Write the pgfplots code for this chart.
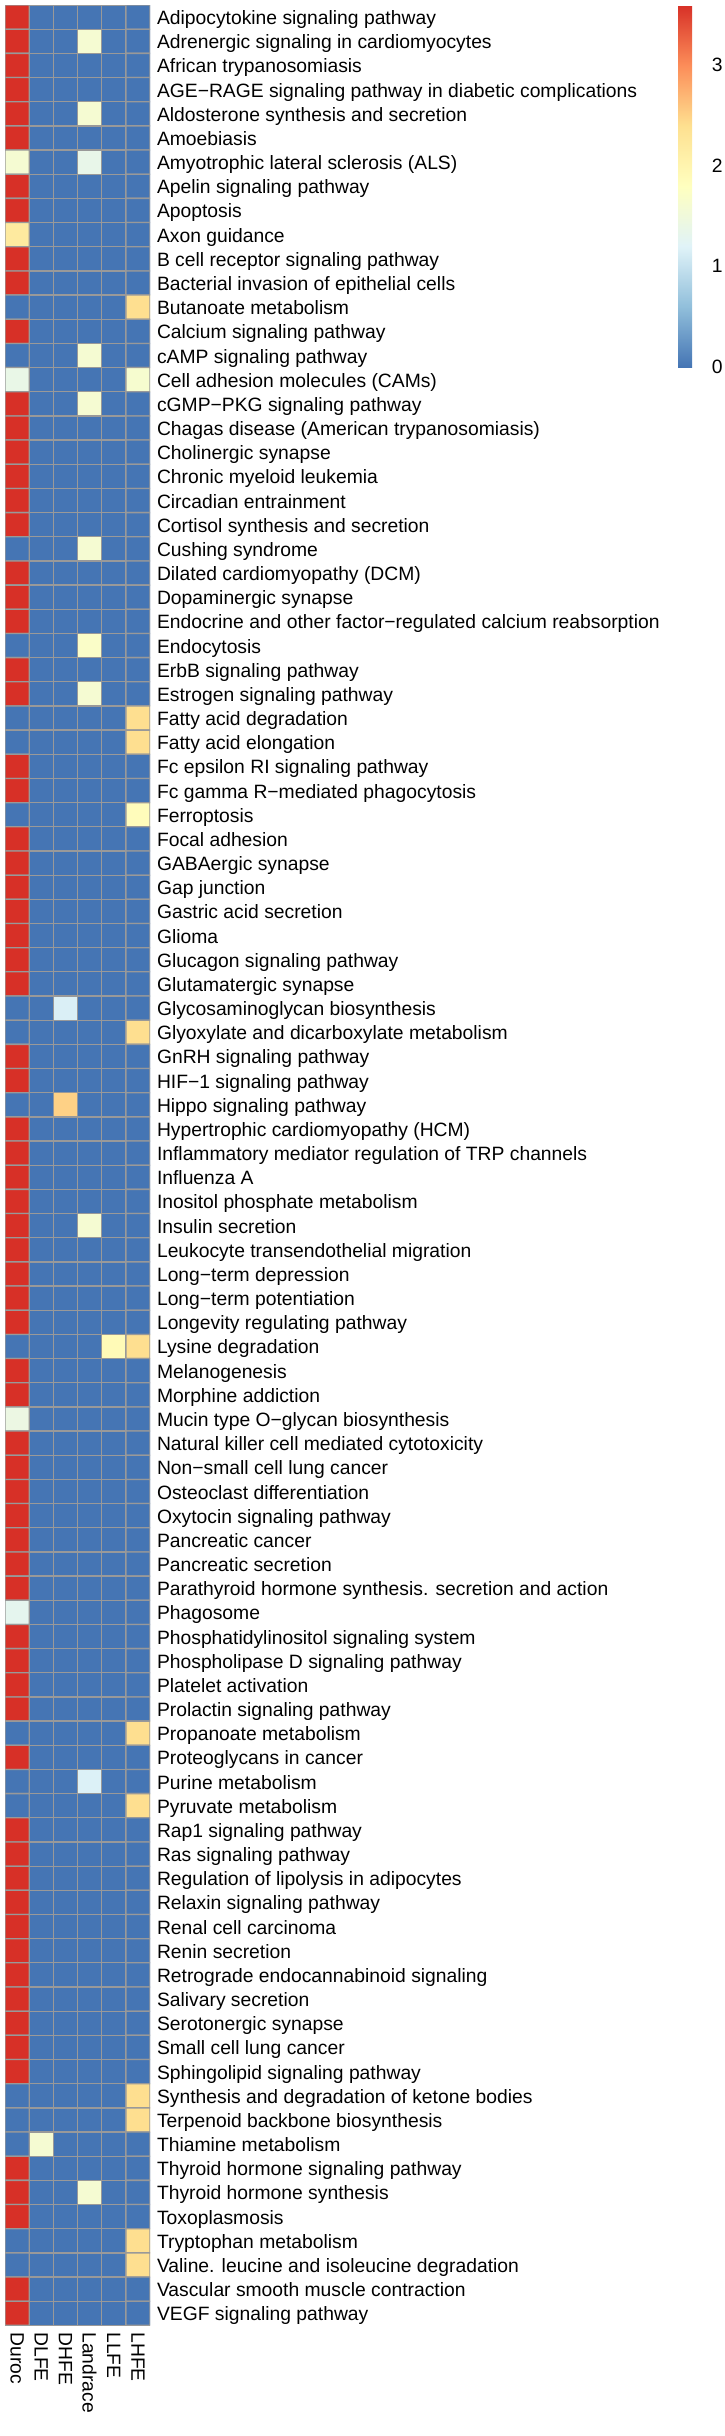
\documentclass[border=0pt]{standalone}
\usepackage{pgfplots}
\pgfplotsset{compat=1.18}
\usepackage{pgfplotstable}
\usepackage{fontspec}
\setmainfont{Liberation Sans}
\definecolor{gridgray}{RGB}{153,153,153}
\newcommand{\lblfont}{\fontsize{19.3}{23}\selectfont}
% columns: 0 Duroc, 1 DLFE, 2 DHFE, 3 Landrace, 4 LLFE, 5 LHFE ; y = row index from top
\pgfplotstableread[row sep=\\]{
x y v\\
0 0 3.59\\1 0 0\\2 0 0\\3 0 0\\4 0 0\\5 0 0\\
0 1 3.59\\1 1 0\\2 1 0\\3 1 1.6\\4 1 0\\5 1 0\\
0 2 3.59\\1 2 0\\2 2 0\\3 2 0\\4 2 0\\5 2 0\\
0 3 3.59\\1 3 0\\2 3 0\\3 3 0\\4 3 0\\5 3 0\\
0 4 3.59\\1 4 0\\2 4 0\\3 4 1.6\\4 4 0\\5 4 0\\
0 5 3.59\\1 5 0\\2 5 0\\3 5 0\\4 5 0\\5 5 0\\
0 6 1.6\\1 6 0\\2 6 0\\3 6 1.35\\4 6 0\\5 6 0\\
0 7 3.59\\1 7 0\\2 7 0\\3 7 0\\4 7 0\\5 7 0\\
0 8 3.59\\1 8 0\\2 8 0\\3 8 0\\4 8 0\\5 8 0\\
0 9 2.2\\1 9 0\\2 9 0\\3 9 0\\4 9 0\\5 9 0\\
0 10 3.59\\1 10 0\\2 10 0\\3 10 0\\4 10 0\\5 10 0\\
0 11 3.59\\1 11 0\\2 11 0\\3 11 0\\4 11 0\\5 11 0\\
0 12 0\\1 12 0\\2 12 0\\3 12 0\\4 12 0\\5 12 2.4\\
0 13 3.59\\1 13 0\\2 13 0\\3 13 0\\4 13 0\\5 13 0\\
0 14 0\\1 14 0\\2 14 0\\3 14 1.6\\4 14 0\\5 14 0\\
0 15 1.38\\1 15 0\\2 15 0\\3 15 0\\4 15 0\\5 15 1.63\\
0 16 3.59\\1 16 0\\2 16 0\\3 16 1.6\\4 16 0\\5 16 0\\
0 17 3.59\\1 17 0\\2 17 0\\3 17 0\\4 17 0\\5 17 0\\
0 18 3.59\\1 18 0\\2 18 0\\3 18 0\\4 18 0\\5 18 0\\
0 19 3.59\\1 19 0\\2 19 0\\3 19 0\\4 19 0\\5 19 0\\
0 20 3.59\\1 20 0\\2 20 0\\3 20 0\\4 20 0\\5 20 0\\
0 21 3.59\\1 21 0\\2 21 0\\3 21 0\\4 21 0\\5 21 0\\
0 22 0\\1 22 0\\2 22 0\\3 22 1.6\\4 22 0\\5 22 0\\
0 23 3.59\\1 23 0\\2 23 0\\3 23 0\\4 23 0\\5 23 0\\
0 24 3.59\\1 24 0\\2 24 0\\3 24 0\\4 24 0\\5 24 0\\
0 25 3.59\\1 25 0\\2 25 0\\3 25 0\\4 25 0\\5 25 0\\
0 26 0\\1 26 0\\2 26 0\\3 26 1.7\\4 26 0\\5 26 0\\
0 27 3.59\\1 27 0\\2 27 0\\3 27 0\\4 27 0\\5 27 0\\
0 28 3.59\\1 28 0\\2 28 0\\3 28 1.6\\4 28 0\\5 28 0\\
0 29 0\\1 29 0\\2 29 0\\3 29 0\\4 29 0\\5 29 2.4\\
0 30 0\\1 30 0\\2 30 0\\3 30 0\\4 30 0\\5 30 2.4\\
0 31 3.59\\1 31 0\\2 31 0\\3 31 0\\4 31 0\\5 31 0\\
0 32 3.59\\1 32 0\\2 32 0\\3 32 0\\4 32 0\\5 32 0\\
0 33 0\\1 33 0\\2 33 0\\3 33 0\\4 33 0\\5 33 1.85\\
0 34 3.59\\1 34 0\\2 34 0\\3 34 0\\4 34 0\\5 34 0\\
0 35 3.59\\1 35 0\\2 35 0\\3 35 0\\4 35 0\\5 35 0\\
0 36 3.59\\1 36 0\\2 36 0\\3 36 0\\4 36 0\\5 36 0\\
0 37 3.59\\1 37 0\\2 37 0\\3 37 0\\4 37 0\\5 37 0\\
0 38 3.59\\1 38 0\\2 38 0\\3 38 0\\4 38 0\\5 38 0\\
0 39 3.59\\1 39 0\\2 39 0\\3 39 0\\4 39 0\\5 39 0\\
0 40 3.59\\1 40 0\\2 40 0\\3 40 0\\4 40 0\\5 40 0\\
0 41 0\\1 41 0\\2 41 1.15\\3 41 0\\4 41 0\\5 41 0\\
0 42 0\\1 42 0\\2 42 0\\3 42 0\\4 42 0\\5 42 2.4\\
0 43 3.59\\1 43 0\\2 43 0\\3 43 0\\4 43 0\\5 43 0\\
0 44 3.59\\1 44 0\\2 44 0\\3 44 0\\4 44 0\\5 44 0\\
0 45 0\\1 45 0\\2 45 2.5\\3 45 0\\4 45 0\\5 45 0\\
0 46 3.59\\1 46 0\\2 46 0\\3 46 0\\4 46 0\\5 46 0\\
0 47 3.59\\1 47 0\\2 47 0\\3 47 0\\4 47 0\\5 47 0\\
0 48 3.59\\1 48 0\\2 48 0\\3 48 0\\4 48 0\\5 48 0\\
0 49 3.59\\1 49 0\\2 49 0\\3 49 0\\4 49 0\\5 49 0\\
0 50 3.59\\1 50 0\\2 50 0\\3 50 1.6\\4 50 0\\5 50 0\\
0 51 3.59\\1 51 0\\2 51 0\\3 51 0\\4 51 0\\5 51 0\\
0 52 3.59\\1 52 0\\2 52 0\\3 52 0\\4 52 0\\5 52 0\\
0 53 3.59\\1 53 0\\2 53 0\\3 53 0\\4 53 0\\5 53 0\\
0 54 3.59\\1 54 0\\2 54 0\\3 54 0\\4 54 0\\5 54 0\\
0 55 0\\1 55 0\\2 55 0\\3 55 0\\4 55 1.9\\5 55 2.4\\
0 56 3.59\\1 56 0\\2 56 0\\3 56 0\\4 56 0\\5 56 0\\
0 57 3.59\\1 57 0\\2 57 0\\3 57 0\\4 57 0\\5 57 0\\
0 58 1.42\\1 58 0\\2 58 0\\3 58 0\\4 58 0\\5 58 0\\
0 59 3.59\\1 59 0\\2 59 0\\3 59 0\\4 59 0\\5 59 0\\
0 60 3.59\\1 60 0\\2 60 0\\3 60 0\\4 60 0\\5 60 0\\
0 61 3.59\\1 61 0\\2 61 0\\3 61 0\\4 61 0\\5 61 0\\
0 62 3.59\\1 62 0\\2 62 0\\3 62 0\\4 62 0\\5 62 0\\
0 63 3.59\\1 63 0\\2 63 0\\3 63 0\\4 63 0\\5 63 0\\
0 64 3.59\\1 64 0\\2 64 0\\3 64 0\\4 64 0\\5 64 0\\
0 65 3.59\\1 65 0\\2 65 0\\3 65 0\\4 65 0\\5 65 0\\
0 66 1.3\\1 66 0\\2 66 0\\3 66 0\\4 66 0\\5 66 0\\
0 67 3.59\\1 67 0\\2 67 0\\3 67 0\\4 67 0\\5 67 0\\
0 68 3.59\\1 68 0\\2 68 0\\3 68 0\\4 68 0\\5 68 0\\
0 69 3.59\\1 69 0\\2 69 0\\3 69 0\\4 69 0\\5 69 0\\
0 70 3.59\\1 70 0\\2 70 0\\3 70 0\\4 70 0\\5 70 0\\
0 71 0\\1 71 0\\2 71 0\\3 71 0\\4 71 0\\5 71 2.4\\
0 72 3.59\\1 72 0\\2 72 0\\3 72 0\\4 72 0\\5 72 0\\
0 73 0\\1 73 0\\2 73 0\\3 73 1.17\\4 73 0\\5 73 0\\
0 74 0\\1 74 0\\2 74 0\\3 74 0\\4 74 0\\5 74 2.4\\
0 75 3.59\\1 75 0\\2 75 0\\3 75 0\\4 75 0\\5 75 0\\
0 76 3.59\\1 76 0\\2 76 0\\3 76 0\\4 76 0\\5 76 0\\
0 77 3.59\\1 77 0\\2 77 0\\3 77 0\\4 77 0\\5 77 0\\
0 78 3.59\\1 78 0\\2 78 0\\3 78 0\\4 78 0\\5 78 0\\
0 79 3.59\\1 79 0\\2 79 0\\3 79 0\\4 79 0\\5 79 0\\
0 80 3.59\\1 80 0\\2 80 0\\3 80 0\\4 80 0\\5 80 0\\
0 81 3.59\\1 81 0\\2 81 0\\3 81 0\\4 81 0\\5 81 0\\
0 82 3.59\\1 82 0\\2 82 0\\3 82 0\\4 82 0\\5 82 0\\
0 83 3.59\\1 83 0\\2 83 0\\3 83 0\\4 83 0\\5 83 0\\
0 84 3.59\\1 84 0\\2 84 0\\3 84 0\\4 84 0\\5 84 0\\
0 85 3.59\\1 85 0\\2 85 0\\3 85 0\\4 85 0\\5 85 0\\
0 86 0\\1 86 0\\2 86 0\\3 86 0\\4 86 0\\5 86 2.4\\
0 87 0\\1 87 0\\2 87 0\\3 87 0\\4 87 0\\5 87 2.4\\
0 88 0\\1 88 1.6\\2 88 0\\3 88 0\\4 88 0\\5 88 0\\
0 89 3.59\\1 89 0\\2 89 0\\3 89 0\\4 89 0\\5 89 0\\
0 90 3.59\\1 90 0\\2 90 0\\3 90 1.6\\4 90 0\\5 90 0\\
0 91 3.59\\1 91 0\\2 91 0\\3 91 0\\4 91 0\\5 91 0\\
0 92 0\\1 92 0\\2 92 0\\3 92 0\\4 92 0\\5 92 2.4\\
0 93 0\\1 93 0\\2 93 0\\3 93 0\\4 93 0\\5 93 2.4\\
0 94 3.59\\1 94 0\\2 94 0\\3 94 0\\4 94 0\\5 94 0\\
0 95 3.59\\1 95 0\\2 95 0\\3 95 0\\4 95 0\\5 95 0\\
}\heat
\begin{document}
\begin{tikzpicture}
\useasboundingbox (0,0) rectangle (724pt,-2436pt);
\begin{axis}[
  at={(5pt,-5pt)}, anchor=north west,
  x=24.17pt, y=24.17pt, y dir=reverse,
  xmin=-0.5, xmax=5.5, ymin=-0.5, ymax=95.5,
  axis line style={draw=none},
  major tick length=0pt, minor tick length=0pt,
  tick label style={font=\lblfont, inner sep=0pt, outer sep=0pt},
  xtick={0,...,5},
  xticklabels={Duroc,DLFE,DHFE,Landrace,LLFE,LHFE},
  xticklabel style={rotate=-90, anchor=west},
  xticklabel shift=7pt,
  ytick={0,...,95},
  yticklabel pos=right,
  yticklabel style={anchor=base west, yshift=-7.5pt},
  yticklabel shift=7pt,
  yticklabels={
Adipocytokine signaling pathway,
Adrenergic signaling in cardiomyocytes,
African trypanosomiasis,
AGE−RAGE signaling pathway in diabetic complications,
Aldosterone synthesis and secretion,
Amoebiasis,
Amyotrophic lateral sclerosis (ALS),
Apelin signaling pathway,
Apoptosis,
Axon guidance,
B cell receptor signaling pathway,
Bacterial invasion of epithelial cells,
Butanoate metabolism,
Calcium signaling pathway,
cAMP signaling pathway,
Cell adhesion molecules (CAMs),
cGMP−PKG signaling pathway,
Chagas disease (American trypanosomiasis),
Cholinergic synapse,
Chronic myeloid leukemia,
Circadian entrainment,
Cortisol synthesis and secretion,
Cushing syndrome,
Dilated cardiomyopathy (DCM),
Dopaminergic synapse,
Endocrine and other factor−regulated calcium reabsorption,
Endocytosis,
ErbB signaling pathway,
Estrogen signaling pathway,
Fatty acid degradation,
Fatty acid elongation,
Fc epsilon RI signaling pathway,
Fc gamma R−mediated phagocytosis,
Ferroptosis,
Focal adhesion,
GABAergic synapse,
Gap junction,
Gastric acid secretion,
Glioma,
Glucagon signaling pathway,
Glutamatergic synapse,
Glycosaminoglycan biosynthesis,
Glyoxylate and dicarboxylate metabolism,
GnRH signaling pathway,
HIF−1 signaling pathway,
Hippo signaling pathway,
Hypertrophic cardiomyopathy (HCM),
Inflammatory mediator regulation of TRP channels,
Influenza A,
Inositol phosphate metabolism,
Insulin secretion,
Leukocyte transendothelial migration,
Long−term depression,
Long−term potentiation,
Longevity regulating pathway,
Lysine degradation,
Melanogenesis,
Morphine addiction,
Mucin type O−glycan biosynthesis,
Natural killer cell mediated cytotoxicity,
Non−small cell lung cancer,
Osteoclast differentiation,
Oxytocin signaling pathway,
Pancreatic cancer,
Pancreatic secretion,
Parathyroid hormone synthesis. secretion and action,
Phagosome,
Phosphatidylinositol signaling system,
Phospholipase D signaling pathway,
Platelet activation,
Prolactin signaling pathway,
Propanoate metabolism,
Proteoglycans in cancer,
Purine metabolism,
Pyruvate metabolism,
Rap1 signaling pathway,
Ras signaling pathway,
Regulation of lipolysis in adipocytes,
Relaxin signaling pathway,
Renal cell carcinoma,
Renin secretion,
Retrograde endocannabinoid signaling,
Salivary secretion,
Serotonergic synapse,
Small cell lung cancer,
Sphingolipid signaling pathway,
Synthesis and degradation of ketone bodies,
Terpenoid backbone biosynthesis,
Thiamine metabolism,
Thyroid hormone signaling pathway,
Thyroid hormone synthesis,
Toxoplasmosis,
Tryptophan metabolism,
Valine. leucine and isoleucine degradation,
Vascular smooth muscle contraction,
VEGF signaling pathway},
  colormap={rdylbu}{rgb255=(69,117,180) rgb255=(145,191,219) rgb255=(224,243,248) rgb255=(255,255,191) rgb255=(254,224,144) rgb255=(252,141,89) rgb255=(215,48,39)},
  point meta min=0, point meta max=3.59,
  colorbar,
  colorbar style={
    at={(parent axis.north east)}, anchor=north west, xshift=519.46pt,
    width=24.2pt, height=362pt,
    axis line style={draw=none},
    major tick length=0pt,
    ytick={0,1,2,3}, yticklabels={0,1,2,3},
    yticklabel style={font=\lblfont, inner sep=0pt, anchor=west},
    yticklabel shift=9.6pt,
  },
]
\addplot[matrix plot, mesh/cols=6, point meta=explicit, shader=faceted, faceted color=gridgray, line width=1.3pt]
  table[x=x, y=y, meta=v] {\heat};
\end{axis}
\end{tikzpicture}
\end{document}
